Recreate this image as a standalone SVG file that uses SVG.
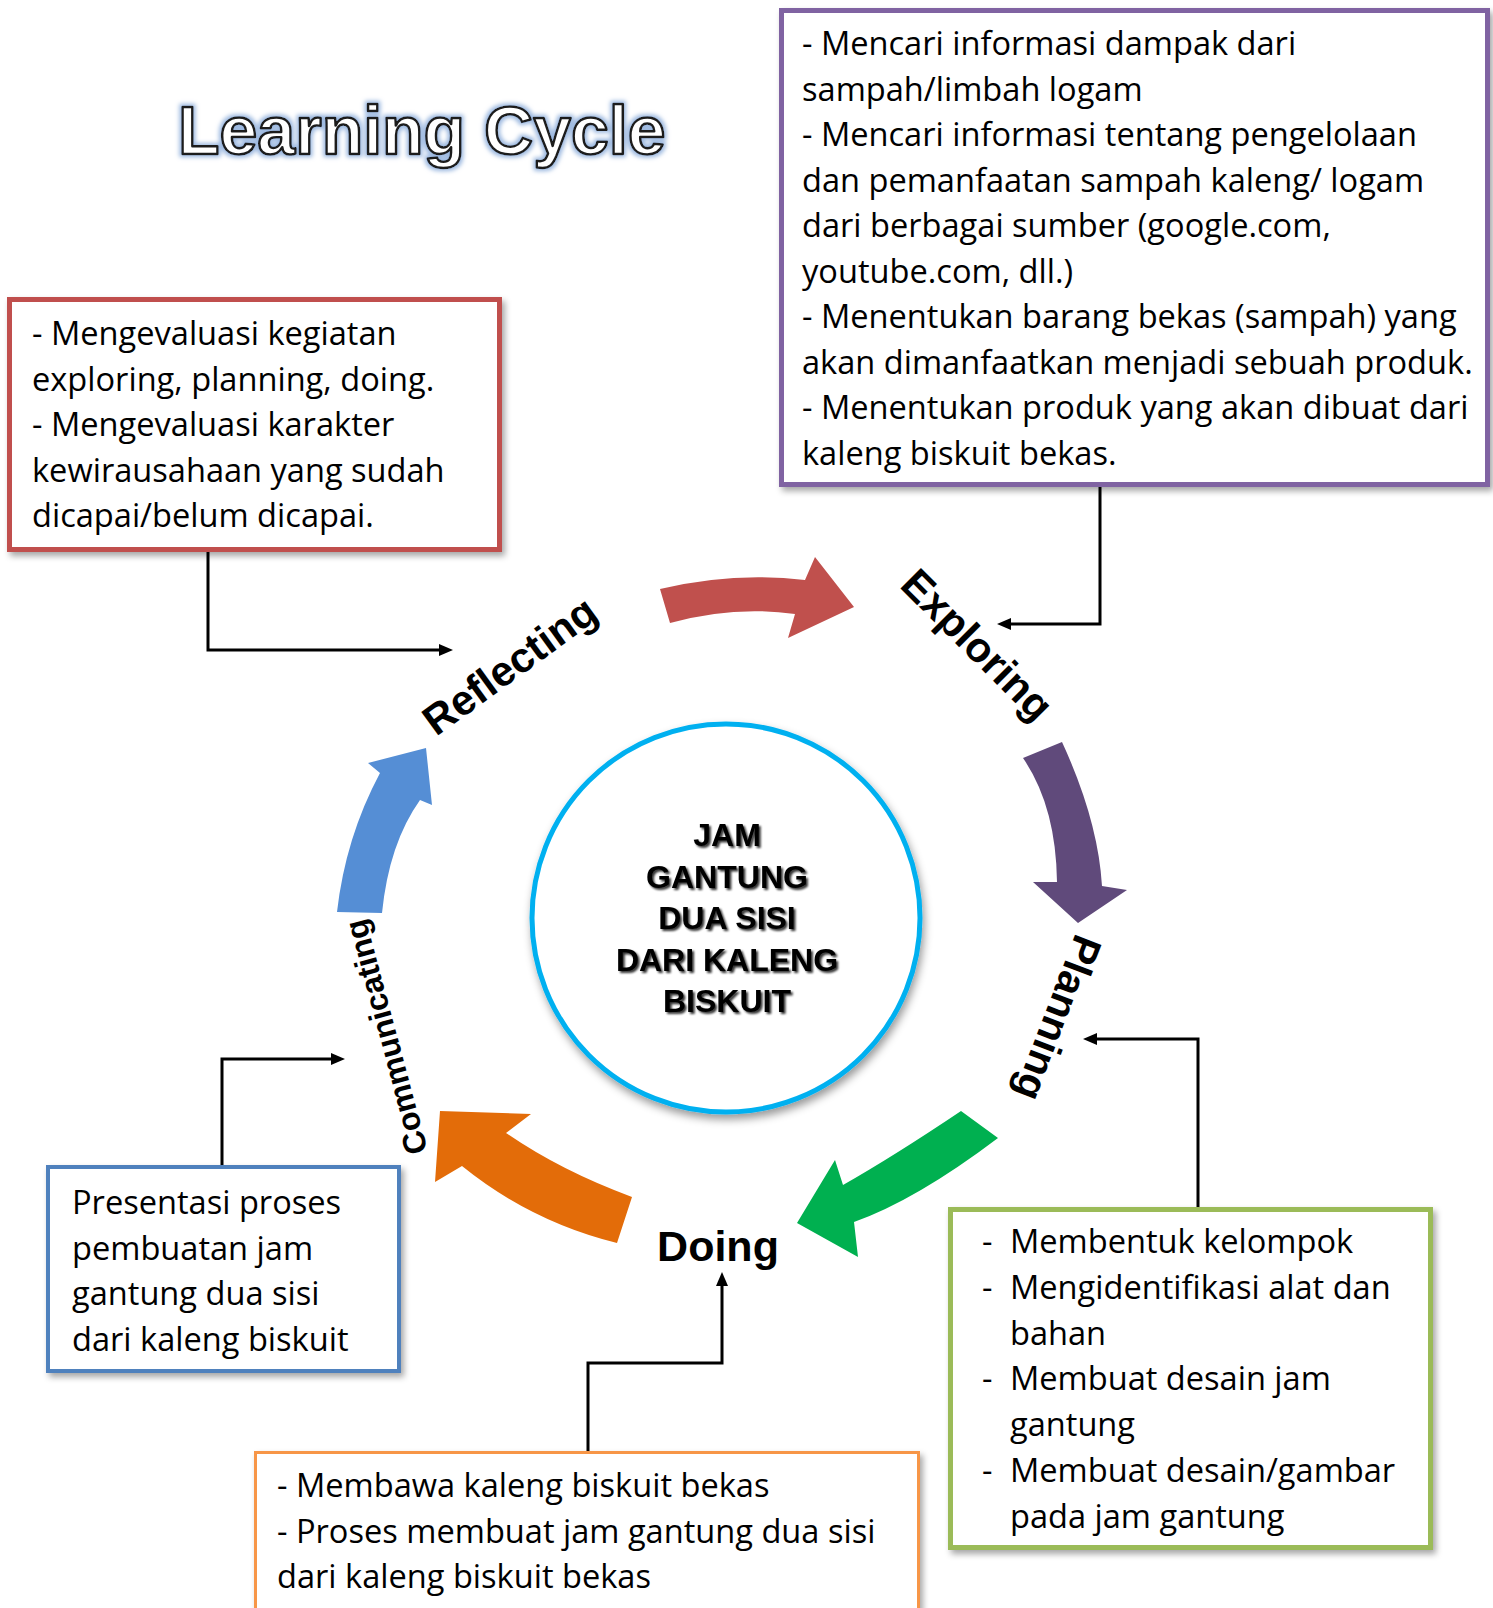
<svg xmlns="http://www.w3.org/2000/svg" width="1493" height="1608" viewBox="0 0 1493 1608">
  <defs>
    <style>
      .box { fill: #ffffff; filter: url(#boxShadow); }
      .body { font-family: "Open Sans", "Liberation Sans", sans-serif; font-size: 32.6px; fill: #000000; }
      .lbl { font-family: "Liberation Sans", Arial, sans-serif; font-weight: bold; fill: #000000; text-anchor: middle; }
      .hub { font-family: "Liberation Sans", Arial, sans-serif; font-weight: bold; font-size: 32px; fill: #000000; text-anchor: middle; filter: url(#hubShadow); }
      .link { fill: none; stroke: #000000; stroke-width: 3; marker-end: url(#tip); }
    </style>
    <marker id="tip" viewBox="0 0 14 12" refX="7" refY="6" markerWidth="14" markerHeight="12" markerUnits="userSpaceOnUse" orient="auto">
      <path d="M0,0 L14,6 L0,12 Z" fill="#000000"/>
    </marker>
    <filter id="boxShadow" x="-5%" y="-5%" width="115%" height="120%">
      <feDropShadow dx="3" dy="4" stdDeviation="3" flood-color="#000000" flood-opacity="0.35"/>
    </filter>
    <filter id="ringShadow" x="-10%" y="-10%" width="125%" height="125%">
      <feDropShadow dx="2" dy="5" stdDeviation="4" flood-color="#000000" flood-opacity="0.4"/>
    </filter>
    <filter id="hubShadow" x="-10%" y="-30%" width="120%" height="170%">
      <feGaussianBlur in="SourceAlpha" stdDeviation="1.3" result="b"/>
      <feOffset in="b" dx="1.5" dy="1.5" result="o"/>
      <feComponentTransfer in="o" result="s"><feFuncA type="linear" slope="0.8"/></feComponentTransfer>
      <feMerge><feMergeNode in="s"/><feMergeNode in="SourceGraphic"/></feMerge>
    </filter>
    <filter id="titleGlow" x="-5%" y="-30%" width="110%" height="160%">
      <feMorphology in="SourceAlpha" operator="dilate" radius="2" result="d"/>
      <feGaussianBlur in="d" stdDeviation="2" result="b"/>
      <feFlood flood-color="#9DB9E0"/>
      <feComposite in2="b" operator="in" result="g"/>
      <feMerge><feMergeNode in="g"/><feMergeNode in="SourceGraphic"/></feMerge>
    </filter>
  </defs>

  <rect width="1493" height="1608" fill="#ffffff"/>

  <!-- Title -->
  <g id="title">
    <text x="178" y="154" font-family="'Liberation Sans', Arial, sans-serif" font-weight="bold" font-size="68" fill="#ffffff" stroke="#1a1a1a" stroke-width="2.5" stroke-linejoin="round" filter="url(#titleGlow)">Learning Cycle</text>
  </g>

  <!-- Cycle arrows -->
  <g id="cycle-arrows">
    <path d="M660,589 Q733.5,571.5 805,580 L815,557 L854,607 L788,638 L795,614 Q733.5,605.5 670,623 Z" fill="#C0504D"/>
    <path d="M1023,758 L1062,742 Q1098,820 1102,886 L1127,890 L1078,923 L1033,882 L1057,882 Q1056,806 1023,758 Z" fill="#604A7B"/>
    <path d="M961,1111 L998,1138 Q916,1200 854,1222 L858,1257 L797,1223 L835,1160 L843,1185 Q894,1156 961,1111 Z" fill="#00B050"/>
    <path d="M632,1197 L617,1243 Q530.5,1221.5 462,1166 L435,1182 L440,1111 L531,1114 L506,1133 Q561,1171 632,1197 Z" fill="#E36C09"/>
    <path d="M337,912 Q345.5,837.5 380,773 L368,763 L426,748 L432,805 L420,800 Q389,843.5 382,913 Z" fill="#558ED5"/>
  </g>

  <!-- Centre -->
  <g id="hub">
    <circle cx="726" cy="918" r="194" fill="#ffffff" stroke="#00B0F0" stroke-width="5" filter="url(#ringShadow)"/>
    <text class="hub" x="727" y="846">JAM</text>
    <text class="hub" x="727" y="887.5">GANTUNG</text>
    <text class="hub" x="727" y="929">DUA SISI</text>
    <text class="hub" x="727" y="970.5">DARI KALENG</text>
    <text class="hub" x="727" y="1012">BISKUIT</text>
  </g>

  <!-- Stage labels -->
  <g id="stage-reflecting"><text class="lbl" font-size="42" transform="translate(510,666) rotate(-36)" y="14">Reflecting</text></g>
  <g id="stage-exploring"><text class="lbl" font-size="42" transform="translate(977,645) rotate(45)" y="14">Exploring</text></g>
  <g id="stage-planning"><text class="lbl" font-size="41" transform="translate(1058,1018) rotate(111)" y="14">Planning</text></g>
  <g id="stage-doing"><text class="lbl" font-size="43" x="718" y="1261">Doing</text></g>
  <g id="stage-communicating"><text class="lbl" font-size="32" transform="translate(386,1037) rotate(-105)" y="11">Communicating</text></g>

  <!-- Connectors -->
  <g id="connectors">
    <path class="link" d="M208,552 V650 H446"/>
    <path class="link" d="M1100,487 V624 H1004"/>
    <path class="link" d="M1198,1207 V1039 H1090"/>
    <path class="link" d="M222,1165 V1059 H338"/>
    <path class="link" d="M588,1452 V1363 H722 V1279"/>
  </g>

  <!-- Reflecting notes -->
  <g id="note-reflecting">
    <rect class="box" x="9.5" y="299.5" width="490" height="250" stroke="#C0504D" stroke-width="5"/>
    <text class="body" x="32" y="345">- Mengevaluasi kegiatan</text>
    <text class="body" x="32" y="390.5">exploring, planning, doing.</text>
    <text class="body" x="32" y="436">- Mengevaluasi karakter</text>
    <text class="body" x="32" y="481.5">kewirausahaan yang sudah</text>
    <text class="body" x="32" y="527">dicapai/belum dicapai.</text>
  </g>

  <!-- Exploring notes -->
  <g id="note-exploring">
    <rect class="box" x="781.5" y="10.5" width="706" height="474" stroke="#8064A2" stroke-width="5"/>
    <text class="body" x="802" y="55">- Mencari informasi dampak dari</text>
    <text class="body" x="802" y="100.5">sampah/limbah logam</text>
    <text class="body" x="802" y="146">- Mencari informasi tentang pengelolaan</text>
    <text class="body" x="802" y="191.5">dan pemanfaatan sampah kaleng/ logam</text>
    <text class="body" x="802" y="237">dari berbagai sumber (google.com,</text>
    <text class="body" x="802" y="282.5">youtube.com, dll.)</text>
    <text class="body" x="802" y="328">- Menentukan barang bekas (sampah) yang</text>
    <text class="body" x="802" y="373.5">akan dimanfaatkan menjadi sebuah produk.</text>
    <text class="body" x="802" y="419">- Menentukan produk yang akan dibuat dari</text>
    <text class="body" x="802" y="464.5">kaleng biskuit bekas.</text>
  </g>

  <!-- Planning notes -->
  <g id="note-planning">
    <rect class="box" x="950.5" y="1209.5" width="480" height="338" stroke="#9BBB59" stroke-width="5"/>
    <text class="body" x="982" y="1253">-</text>
    <text class="body" x="1010" y="1253">Membentuk kelompok</text>
    <text class="body" x="982" y="1299">-</text>
    <text class="body" x="1010" y="1299">Mengidentifikasi alat dan</text>
    <text class="body" x="1010" y="1345">bahan</text>
    <text class="body" x="982" y="1390">-</text>
    <text class="body" x="1010" y="1390">Membuat desain jam</text>
    <text class="body" x="1010" y="1436">gantung</text>
    <text class="body" x="982" y="1482">-</text>
    <text class="body" x="1010" y="1482">Membuat desain/gambar</text>
    <text class="body" x="1010" y="1528">pada jam gantung</text>
  </g>

  <!-- Doing notes -->
  <g id="note-doing">
    <rect class="box" x="255.5" y="1452.5" width="663" height="200" stroke="#F79646" stroke-width="3"/>
    <text class="body" x="277" y="1497">- Membawa kaleng biskuit bekas</text>
    <text class="body" x="277" y="1542.5">- Proses membuat jam gantung dua sisi</text>
    <text class="body" x="277" y="1588">dari kaleng biskuit bekas</text>
  </g>

  <!-- Communicating notes -->
  <g id="note-communicating">
    <rect class="box" x="48" y="1167" width="351" height="204" stroke="#4F81BD" stroke-width="4"/>
    <text class="body" x="72" y="1214">Presentasi proses</text>
    <text class="body" x="72" y="1259.5">pembuatan jam</text>
    <text class="body" x="72" y="1305">gantung dua sisi</text>
    <text class="body" x="72" y="1350.5">dari kaleng biskuit</text>
  </g>
</svg>
